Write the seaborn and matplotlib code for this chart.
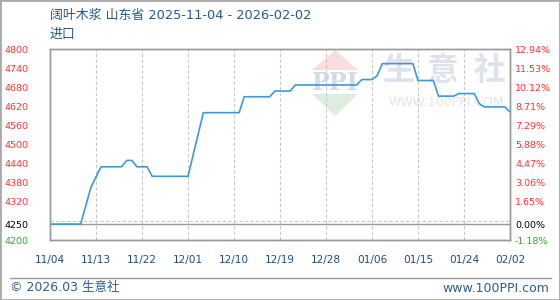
import numpy as np
import pandas as pd
import matplotlib
matplotlib.use("Agg")
import matplotlib.pyplot as plt
import seaborn as sns
from matplotlib.patches import Polygon, Rectangle
from matplotlib.lines import Line2D

# ---------------- data ----------------
title_main = "阔叶木浆 山东省 2025-11-04 - 2026-02-02"
title_sub = "进口"
start_date = "2025-11-04"
prices = [
    4250, 4250, 4250, 4250, 4250, 4250, 4250,           # 11/04-11/10
    4308, 4365, 4398,
    4430, 4430, 4430, 4430, 4430,
    4450, 4450,
    4430, 4430, 4430,
    4400, 4400, 4400, 4400, 4400, 4400, 4400, 4400,
    4467, 4533,
    4600, 4600, 4600, 4600, 4600, 4600, 4600, 4600,
    4650, 4650, 4650, 4650, 4650, 4650,
    4668, 4668, 4668, 4668,
    4687, 4687, 4687, 4687, 4687, 4687, 4687, 4687, 4687, 4687, 4687, 4687, 4687,
    4704, 4704, 4704,
    4716,
    4754, 4754, 4754, 4754, 4754, 4754, 4754,
    4701, 4701, 4701, 4701,
    4652, 4652, 4652, 4652,
    4660, 4660, 4660, 4660,
    4628,
    4618, 4618, 4618, 4618, 4618,
    4602,
]
base_price = 4250
y_min, y_max = 4200, 4800
left_labels = [4800, 4740, 4680, 4620, 4560, 4500, 4440, 4380, 4320, 4250, 4200]
grid_levels = [4260, 4320, 4380, 4440, 4500, 4560, 4620, 4680, 4740]
tick_step_days = 9
footer_left = "© 2026.03 生意社"
footer_right = "www.100PPI.com"

dates = pd.date_range(start_date, periods=len(prices), freq="D")
df = pd.DataFrame({"day": np.arange(len(prices)), "price": prices})
tick_days = list(range(0, len(prices), tick_step_days))
tick_labels = [dates[d].strftime("%m/%d") for d in tick_days]

# ---------------- figure ----------------
sns.set_style("white")
plt.rcParams["font.family"] = ["DejaVu Sans", "Noto Sans CJK SC"]

W, H = 560, 300
fig = plt.figure(figsize=(W / 100, H / 100), dpi=100)
L, R, T, B = 50, 510, 49, 240
ax = fig.add_axes([L / W, 1 - B / H, (R - L) / W, (B - T) / H])
ax.patch.set_facecolor("none")

def fx(x):
    return x / W

def fy(y):
    return 1 - y / H

# watermark (behind axes)
wm = []
wm.append(Polygon([(fx(335), fy(50)), (fx(312), fy(70)), (fx(358), fy(70))],
                  closed=True, transform=fig.transFigure, fc="#f9dede", ec="none", zorder=-2))
wm.append(Polygon([(fx(312), fy(94)), (fx(358), fy(94)), (fx(335), fy(116))],
                  closed=True, transform=fig.transFigure, fc="#dcefdf", ec="none", zorder=-2))
for p in wm:
    fig.patches.append(p)
fig.text(fx(335), fy(83), "PPI", ha="center", va="center", fontsize=17, fontweight="bold",
         family="DejaVu Serif", color="#d3dae8", zorder=-1)
for cx, ch in zip([398, 443, 490], ["生", "意", "社"]):
    fig.text(fx(cx), fy(71), ch, ha="center", va="center", fontsize=23, fontweight="bold",
             family=["Noto Sans CJK SC"], color="#dde2ec", zorder=-1)
fig.text(fx(446), fy(102), "WWW.100PPI.COM", ha="center", va="center", fontsize=9,
         color="#e5e5e5", zorder=-1)

# line
sns.lineplot(data=df, x="day", y="price", ax=ax, color="#3d9ad8", linewidth=1.2, zorder=5)
ax.axhline(base_price, color="#999999", linewidth=1.0, zorder=3)

ax.set_xlim(0, len(prices) - 1)
ax.set_ylim(y_min, y_max)
ax.set_xlabel("")
ax.set_ylabel("")

# grid
ax.set_yticks(grid_levels, minor=True)
ax.grid(which="minor", axis="y", linestyle=(0, (3, 2)), color="#c8c8c8", linewidth=0.8)
ax.set_xticks(tick_days)
ax.set_xticklabels(tick_labels)
ax.grid(which="major", axis="x", linestyle=(0, (3, 2)), color="#c8c8c8", linewidth=0.8)
ax.tick_params(axis="x", length=0, pad=10.5, labelsize=7.6, labelcolor="#1b4f80")
ax.tick_params(axis="y", which="both", length=0)

def label_color(v):
    if v == base_price:
        return "#000000"
    if v < base_price:
        return "#33aa33"
    return "#ff3333"

ax.set_yticks(left_labels)
ax.set_yticklabels([str(v) for v in left_labels])
ax.tick_params(axis="y", pad=15.5, labelsize=6.8)
for lab, v in zip(ax.get_yticklabels(), left_labels):
    lab.set_color(label_color(v))

ax2 = ax.twinx()
ax2.set_ylim(y_min, y_max)
ax2.set_yticks(left_labels)
ax2.set_yticklabels([f"{(v - base_price) / base_price * 100:.2f}%" for v in left_labels])
ax2.tick_params(axis="y", length=0, pad=3.6, labelsize=6.8)
for lab, v in zip(ax2.get_yticklabels(), left_labels):
    lab.set_color(label_color(v))

for a in (ax, ax2):
    for s in a.spines.values():
        s.set_color("#999999")
        s.set_linewidth(1.0)
        s.set_visible(True)

# titles
fig.text(fx(50), fy(16), title_main, ha="left", va="center", fontsize=9.3,
         family=["DejaVu Sans", "Noto Sans CJK SC"], color="#1f5c8e")
fig.text(fx(50), fy(34), title_sub, ha="left", va="center", fontsize=9.3,
         family=["Noto Sans CJK SC", "DejaVu Sans"], color="#1f5c8e")

# footer
fig.lines.append(Line2D([fx(10), fx(551)], [fy(277.5), fy(277.5)], transform=fig.transFigure,
                        color="#999999", linewidth=1.0))
fig.text(fx(10), fy(288), footer_left, ha="left", va="center", fontsize=9,
         family=["DejaVu Sans", "Noto Sans CJK SC"], color="#2a5f8f")
fig.text(fx(549), fy(288), footer_right, ha="right", va="center", fontsize=9,
         color="#2a5f8f")

# outer border
fig.patches.append(Rectangle((0, 0), 1, 1, transform=fig.transFigure, fill=False,
                             ec="#aaaaaa", lw=2, zorder=10))

fig.savefig("out.png", dpi=100)
